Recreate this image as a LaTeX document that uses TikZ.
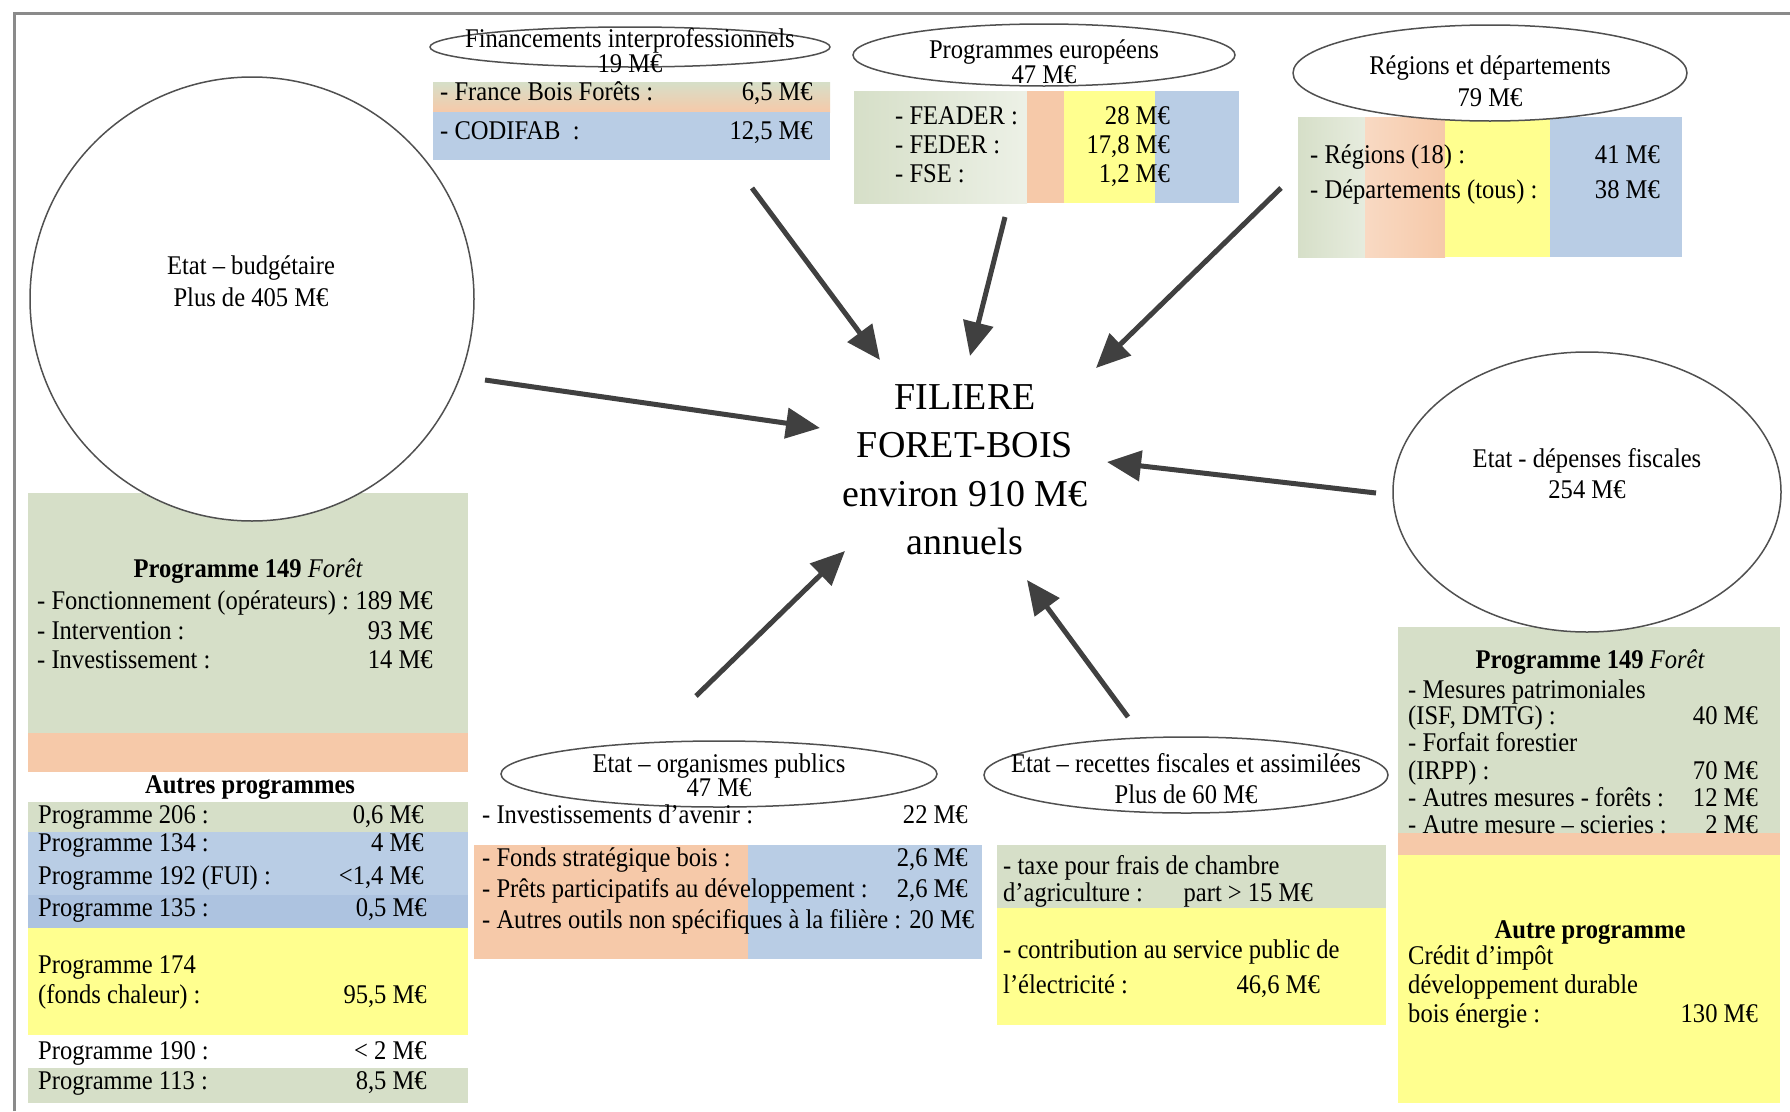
\documentclass[tikz,border=0pt]{standalone}
\usepackage{fontspec}
\setmainfont{Liberation Serif}[FakeStretch=0.91]
\newfontfamily\centerfont{Liberation Serif}
\usetikzlibrary{arrows.meta}
\definecolor{cgreen}{HTML}{D6DFC8}
\definecolor{corange}{HTML}{F6C9A9}
\definecolor{cblue}{HTML}{B9CDE5}
\definecolor{cblue2}{HTML}{ADC3E0}
\definecolor{cyellow}{HTML}{FFFF8F}
\definecolor{cline}{HTML}{505050}
\definecolor{carrow}{HTML}{404040}
\definecolor{framec}{HTML}{8A8A8A}
\newcommand{\fs}{\fontsize{27}{30}\selectfont}
\newcommand{\bigfs}{\centerfont\fontsize{38}{46}\selectfont}
\begin{document}
\begin{tikzpicture}[x=1pt,y=-1pt,
  txtbase/.style={inner sep=0pt,font=\fs,text height=19pt,text depth=6pt},
  lt/.style={txtbase,anchor=west},
  rt/.style={txtbase,anchor=east},
  ct/.style={txtbase,anchor=center},
  bt/.style={txtbase,anchor=center,font=\fs\bfseries},
  bigt/.style={inner sep=0pt,anchor=center,font=\bigfs,text height=27pt,text depth=8pt},
  oval/.style={draw=cline,line width=1.5pt,fill=white},
  arr/.style={draw=carrow,line width=5pt,-{Triangle[length=34pt,width=30pt]}}
]
\useasboundingbox (0,0) rectangle (1790,1111);
\fill[white] (0,0) rectangle (1790,1111);
\draw[framec,line width=3pt] (14,1111) -- (14,13) -- (1790,13);

% ---------- left : programme 149 ----------
\fill[cgreen] (28,493) rectangle (468,733);
\fill[corange] (28,733) rectangle (468,772);
\draw[oval] (252,299) circle[radius=222];
\node[ct] (eb1) at (251,268) {Etat – budgétaire};
\node[ct] (eb2) at (251,300) {Plus de 405 M€};

\node[bt] (lp0) at (248,571) {Programme 149 {\mdseries\itshape Forêt}};
\node[lt] (lp1) at (37,603) {- Fonctionnement (opérateurs) :};
\node[rt] (lp1v) at (433,603) {189 M€};
\node[lt] (lp2) at (37,633) {- Intervention :};
\node[rt] (lp2v) at (433,633) {93 M€};
\node[lt] (lp3) at (37,662) {- Investissement :};
\node[rt] (lp3v) at (433,662) {14 M€};

% ---------- left : autres programmes ----------
\node[bt] (ap0) at (250,787) {Autres programmes};
\fill[cgreen] (28,802) rectangle (468,832);
\fill[cblue] (28,832) rectangle (468,862);
\fill[cblue] (28,862) rectangle (468,895);
\fill[cblue2] (28,895) rectangle (468,928);
\fill[cyellow] (28,928) rectangle (468,1035);
\fill[cgreen] (28,1068) rectangle (468,1103);
\node[lt] (ap1) at (38,817) {Programme 206 :};
\node[rt] (ap1v) at (424,817) {0,6 M€};
\node[lt] (ap2) at (38,845) {Programme 134 :};
\node[rt] (ap2v) at (424,845) {4 M€};
\node[lt] (ap3) at (38,878) {Programme 192 (FUI) :};
\node[rt] (ap3v) at (424,878) {<1,4 M€};
\node[lt] (ap4) at (38,910) {Programme 135 :};
\node[rt] (ap4v) at (427,910) {0,5 M€};
\node[lt] (ap5) at (38,967) {Programme 174};
\node[lt] (ap6) at (38,997) {(fonds chaleur) :};
\node[rt] (ap6v) at (427,997) {95,5 M€};
\node[lt] (ap7) at (38,1053) {Programme 190 :};
\node[rt] (ap7v) at (427,1053) {< 2 M€};
\node[lt] (ap8) at (38,1083) {Programme 113 :};
\node[rt] (ap8v) at (427,1083) {8,5 M€};

% ---------- top : financements interprofessionnels ----------
\shade[top color=cgreen,bottom color=corange] (433,82) rectangle (830,112);
\fill[cblue] (433,112) rectangle (830,160);
\draw[oval] (630,47) ellipse[x radius=200,y radius=20];
\node[ct] (fi1) at (630,41) {Financements interprofessionnels};
\node[ct] (fi2) at (630,66) {19 M€};
\node[lt] (fi3) at (440,94) {- France Bois Forêts :};
\node[rt] (fi3v) at (813,94) {6,5 M€};
\node[lt] (fi4) at (440,133) {- CODIFAB \ :};
\node[rt] (fi4v) at (813,133) {12,5 M€};

% ---------- top : programmes europeens ----------
\shade[left color=cgreen,right color=cgreen!45!white] (854,91) rectangle (1027,203);
\fill[corange] (1027,91) rectangle (1064,203);
\fill[cyellow] (1064,91) rectangle (1155,203);
\fill[cblue] (1155,91) rectangle (1239,203);
\draw[oval] (1044,55) ellipse[x radius=191,y radius=31];
\node[ct] (pe1) at (1044,52) {Programmes européens};
\node[ct] (pe2) at (1044,77) {47 M€};
\node[lt] (pe3) at (895,118) {- FEADER :};
\node[rt] (pe3v) at (1170,118) {28 M€};
\node[lt] (pe4) at (895,147) {- FEDER :};
\node[rt] (pe4v) at (1170,147) {17,8 M€};
\node[lt] (pe5) at (895,176) {- FSE :};
\node[rt] (pe5v) at (1170,176) {1,2 M€};

% ---------- top : regions et departements ----------
\shade[left color=cgreen,right color=cgreen!60!white] (1298,117) rectangle (1365,257);
\shade[left color=corange!70!white,right color=corange] (1365,117) rectangle (1445,257);
\fill[cyellow] (1445,117) rectangle (1550,257);
\fill[cblue] (1550,117) rectangle (1682,257);
\draw[oval] (1490,73) ellipse[x radius=197,y radius=48];
\node[ct] (rd1) at (1490,68) {Régions et départements};
\node[ct] (rd2) at (1490,100) {79 M€};
\node[lt] (rd3) at (1310,157) {- Régions (18) :};
\node[rt] (rd3v) at (1660,157) {41 M€};
\node[lt] (rd4) at (1310,192) {- Départements (tous) :};
\node[rt] (rd4v) at (1660,192) {38 M€};

% ---------- centre ----------
\node[bigt] (c1) at (965,400) {FILIERE};
\node[bigt] (c2) at (965,448) {FORET-BOIS};
\node[bigt] (c3) at (965,497) {environ 910 M€};
\node[bigt] (c4) at (965,545) {annuels};

% ---------- right : depenses fiscales ----------
\fill[cgreen] (1398,627) rectangle (1780,833);
\fill[corange] (1398,833) rectangle (1780,855);
\fill[cyellow] (1398,855) rectangle (1780,1103);
\draw[oval] (1587,492) ellipse[x radius=194,y radius=140];
\node[ct] (df1) at (1587,461) {Etat - dépenses fiscales};
\node[ct] (df2) at (1587,492) {254 M€};

\node[bt] (rp0) at (1590,662) {Programme 149 {\mdseries\itshape Forêt}};
\node[lt] (rp1) at (1408,692) {- Mesures patrimoniales};
\node[lt] (rp2) at (1408,718) {(ISF, DMTG) :};
\node[rt] (rp2v) at (1758,718) {40 M€};
\node[lt] (rp3) at (1408,745) {- Forfait forestier};
\node[lt] (rp4) at (1408,773) {(IRPP) :};
\node[rt] (rp4v) at (1758,773) {70 M€};
\node[lt] (rp5) at (1408,800) {- Autres mesures - forêts :};
\node[rt] (rp5v) at (1758,800) {12 M€};
\node[lt] (rp6) at (1408,827) {- Autre mesure – scieries :};
\node[rt] (rp6v) at (1758,827) {2 M€};
\node[bt] (rp7) at (1590,932) {Autre programme};
\node[lt] (rp8) at (1408,958) {Crédit d’impôt};
\node[lt] (rp9) at (1408,987) {développement durable};
\node[lt] (rp10) at (1408,1016) {bois énergie :};
\node[rt] (rp10v) at (1758,1016) {130 M€};

% ---------- bottom : organismes publics ----------
\fill[corange] (474,845) rectangle (748,959);
\fill[cblue] (748,845) rectangle (982,959);
\draw[oval] (719,774) ellipse[x radius=218,y radius=33];
\node[ct] (op1) at (719,766) {Etat – organismes publics};
\node[ct] (op2) at (719,790) {47 M€};
\node[lt] (op3) at (482,817) {- Investissements d'avenir :};
\node[rt] (op3v) at (968,817) {22 M€};
\node[lt] (op4) at (482,860) {- Fonds stratégique bois :};
\node[rt] (op4v) at (968,860) {2,6 M€};
\node[lt] (op5) at (482,891) {- Prêts participatifs au développement :};
\node[rt] (op5v) at (968,891) {2,6 M€};
\node[lt] (op6) at (482,922) {- Autres outils non spécifiques à la filière : 20 M€};

% ---------- bottom : recettes fiscales ----------
\fill[cgreen] (997,845) rectangle (1386,908);
\fill[cyellow] (997,908) rectangle (1386,1025);
\draw[oval] (1186,775) ellipse[x radius=202,y radius=38];
\node[ct] (rf1) at (1186,766) {Etat – recettes fiscales et assimilées};
\node[ct] (rf2) at (1186,797) {Plus de 60 M€};
\node[lt] (rf3) at (1003,868) {- taxe pour frais de chambre};
\node[lt] (rf4) at (1003,895) {d’agriculture :};
\node[rt] (rf4v) at (1313,895) {part > 15 M€};
\node[lt] (rf5) at (1003,952) {- contribution au service public de};
\node[lt] (rf6) at (1003,987) {l’électricité :};
\node[rt] (rf6v) at (1320,987) {46,6 M€};

% ---------- arrows ----------
\coordinate (a1s) at (752,188);  \coordinate (a1e) at (880,360);
\coordinate (a2s) at (1005,217); \coordinate (a2e) at (970,356);
\coordinate (a3s) at (1281,188); \coordinate (a3e) at (1096,368);
\coordinate (a4s) at (485,380);  \coordinate (a4e) at (820,428);
\coordinate (a5s) at (1376,493); \coordinate (a5e) at (1107,462);
\coordinate (a6s) at (696,696);  \coordinate (a6e) at (845,551);
\coordinate (a7s) at (1128,717); \coordinate (a7e) at (1027,580);
\draw[arr] (a1s) -- (a1e);
\draw[arr] (a2s) -- (a2e);
\draw[arr] (a3s) -- (a3e);
\draw[arr] (a4s) -- (a4e);
\draw[arr] (a5s) -- (a5e);
\draw[arr] (a6s) -- (a6e);
\draw[arr] (a7s) -- (a7e);
\end{tikzpicture}
\end{document}
